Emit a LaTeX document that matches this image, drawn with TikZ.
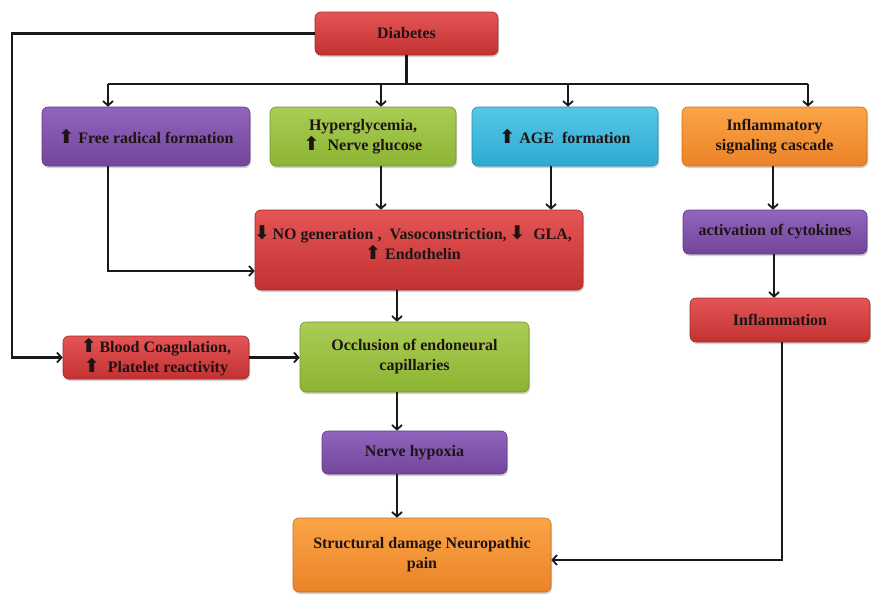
\documentclass[tikz,border=0pt]{standalone}
\usepackage{fontspec}
\setmainfont{Liberation Serif}
\newfontfamily\symf{DejaVu Sans}
\usetikzlibrary{arrows.meta,shadows}
\definecolor{redT}{RGB}{230,85,85}\definecolor{redB}{RGB}{195,50,50}\definecolor{redE}{RGB}{160,40,40}
\definecolor{purT}{RGB}{145,100,190}\definecolor{purB}{RGB}{115,70,155}\definecolor{purE}{RGB}{95,60,130}
\definecolor{grnT}{RGB}{170,205,85}\definecolor{grnB}{RGB}{140,180,50}\definecolor{grnE}{RGB}{115,150,45}
\definecolor{cyaT}{RGB}{85,200,230}\definecolor{cyaB}{RGB}{45,170,210}\definecolor{cyaE}{RGB}{40,140,175}
\definecolor{orgT}{RGB}{250,165,70}\definecolor{orgB}{RGB}{235,130,40}\definecolor{orgE}{RGB}{200,110,35}
\definecolor{txt}{RGB}{30,20,20}
\newcommand{\myup}{{\symf\fontsize{19}{19}\selectfont ⬆}}
\newcommand{\mydown}{{\symf\fontsize{19}{19}\selectfont ⬇}}
\tikzset{
  box/.style={rectangle, rounded corners=6pt, align=center, text=txt,
    font=\fontsize{16}{20}\selectfont\bfseries, inner sep=2pt,
    drop shadow={opacity=0.35, shadow xshift=1pt, shadow yshift=-2pt}},
  redbox/.style={box, top color=redT, bottom color=redB, draw=redE, line width=0.6pt},
  purbox/.style={box, top color=purT, bottom color=purB, draw=purE, line width=0.6pt},
  grnbox/.style={box, top color=grnT, bottom color=grnB, draw=grnE, line width=0.6pt},
  cyabox/.style={box, top color=cyaT, bottom color=cyaB, draw=cyaE, line width=0.6pt},
  orgbox/.style={box, top color=orgT, bottom color=orgB, draw=orgE, line width=0.6pt},
  ln/.style={line width=2.2pt, black!90},
  arr/.style={ln, -{Straight Barb[length=4.5pt,width=10pt,line width=1.8pt]}},
  lbl/.style={align=center, text=txt, font=\fontsize{16}{20}\selectfont\bfseries, inner sep=0pt}
}
\begin{document}
\begin{tikzpicture}[x=1pt,y=-1pt]
\useasboundingbox[fill=white] (0,0) rectangle (871,597);
% boxes
\node[redbox, minimum width=183pt, minimum height=43pt] (dia) at (406.5,33.5) {Diabetes};
\node[purbox, minimum width=208pt, minimum height=59pt] (free) at (146,136.5) {\myup\ Free radical formation};
\node[grnbox, minimum width=186pt, minimum height=59pt] (hyp) at (363,136.5) {Hyperglycemia,\\\myup\ \ Nerve glucose};
\node[cyabox, minimum width=186pt, minimum height=59pt] (age) at (565,136.5) {\myup\ AGE\ \ formation};
\node[orgbox, minimum width=185pt, minimum height=59pt] (infl) at (774.5,136.5) {Inflammatory\\signaling cascade};
\node[redbox, minimum width=328pt, minimum height=80pt] (no) at (419,250) {};
\node[lbl] (notext) at (413,243) {\mydown\,NO generation ,\ \ Vasoconstriction,\,\mydown\ \ GLA,\\\myup\ Endothelin};
\node[purbox, minimum width=184pt, minimum height=44pt] (cyt) at (775,232) {activation of cytokines};
\node[redbox, minimum width=180pt, minimum height=44pt] (inf2) at (780,320) {Inflammation};
\node[redbox, minimum width=186pt, minimum height=43pt] (blood) at (156,357.5) {\myup\,Blood Coagulation,\\\myup\ \ Platelet reactivity};
\node[grnbox, minimum width=229pt, minimum height=70pt] (occ) at (414.5,357) {Occlusion of endoneural\\capillaries};
\node[purbox, minimum width=185pt, minimum height=43pt] (hyx) at (414.5,452.5) {Nerve hypoxia};
\node[orgbox, minimum width=258pt, minimum height=74pt] (str) at (422,555) {Structural damage Neuropathic\\pain};
% helper coordinates
\coordinate (lc) at (12,33.5);
\coordinate (bus) at (406.5,84);
\coordinate (b1) at (108,84);
\coordinate (b2) at (381,84);
\coordinate (b3) at (568,84);
\coordinate (b4) at (808,84);
\coordinate (f1) at (108,271);
\coordinate (xh) at (381,0);
\coordinate (xa) at (551,0);
\coordinate (xi) at (773,0);
\coordinate (xc) at (774,0);
\coordinate (xm) at (397,0);
\coordinate (c4) at (782,560);
% connectors
\draw[arr] (dia.west) -- (lc) |- (blood.west);
\draw[ln] (dia.south) -- (bus);
\draw[ln] (b1) -- (b4);
\draw[arr] (b1) -- (b1 |- free.north);
\draw[arr] (b2) -- (b2 |- hyp.north);
\draw[arr] (b3) -- (b3 |- age.north);
\draw[arr] (b4) -- (b4 |- infl.north);
\draw[arr] (free.south -| f1) -- (f1) -- (no.west |- f1);
\draw[arr] (hyp.south -| xh) -- (no.north -| xh);
\draw[arr] (age.south -| xa) -- (no.north -| xa);
\draw[arr] (infl.south -| xi) -- (cyt.north -| xi);
\draw[arr] (cyt.south -| xc) -- (inf2.north -| xc);
\draw[arr] (no.south -| xm) -- (occ.north -| xm);
\draw[arr] (blood.east) -- (occ.west |- blood.east);
\draw[arr] (occ.south -| xm) -- (hyx.north -| xm);
\draw[arr] (hyx.south -| xm) -- (str.north -| xm);
\draw[arr] (inf2.south -| c4) -- (c4) -- (str.east |- c4);
\end{tikzpicture}
\end{document}
